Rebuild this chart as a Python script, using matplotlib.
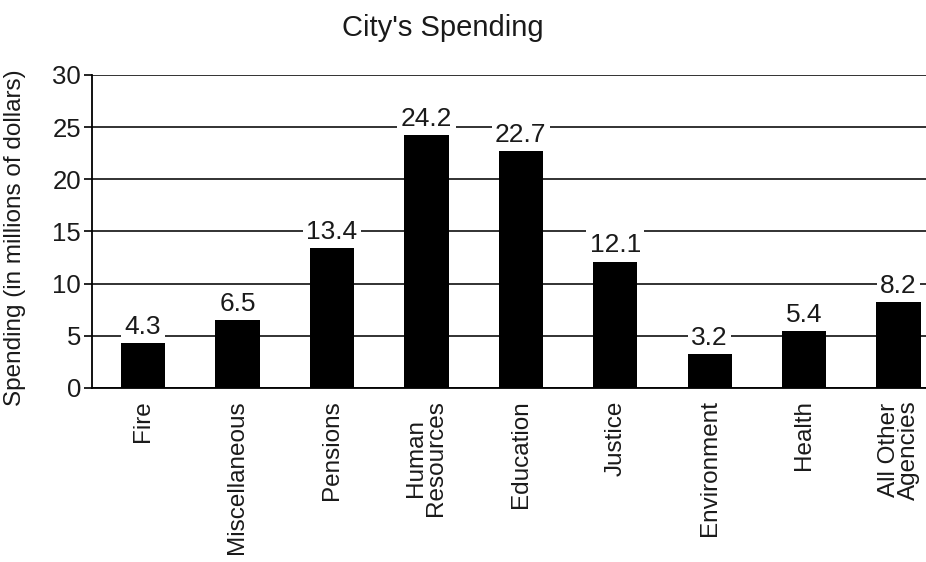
import matplotlib.pyplot as plt
import numpy as np

plt.rcParams['font.family'] = ['Liberation Sans', 'DejaVu Sans']

categories = ["Fire", "Miscellaneous", "Pensions", "Human\nResources", "Education",
              "Justice", "Environment", "Health", "All Other\nAgencies"]
spending = [4.3, 6.5, 13.4, 24.2, 22.7, 12.1, 3.2, 5.4, 8.2]
value_labels = ["4.3", "6.5", "13.4", "24.2", "22.7", "12.1", "3.2", "5.4", "8.2"]
yticks = [0, 5, 10, 15, 20, 25, 30]

fig = plt.figure(figsize=(9.26, 5.62), dpi=100)
ax = fig.add_axes([0.0994, 0.310, 0.9006, 0.5566])

x = np.arange(len(categories))
ax.bar(x, spending, width=0.47, color="black", zorder=3)

# value labels with white boxes that break the gridlines
for xi, v, lab in zip(x, spending, value_labels):
    ax.annotate(lab, (xi, v), xytext=(0, 3), textcoords="offset points",
                ha="center", va="bottom", fontsize=19, color="#1a1a1a", zorder=4,
                bbox=dict(facecolor="white", edgecolor="none", pad=2.5))

ax.set_ylim(0, 30)
ax.set_xlim(-0.54, 8.29)
ax.set_yticks(yticks)
ax.yaxis.grid(True, color="#222222", linewidth=1.3, zorder=0)
ax.set_axisbelow(True)
ax.tick_params(axis="y", labelsize=18.5, length=6, width=1.2, pad=2, labelcolor="#1a1a1a")
ax.tick_params(axis="x", length=0, pad=9)
ax.set_xticks(x)
ax.set_xticklabels(categories, rotation=90, fontsize=17.5, linespacing=0.88, color="#1a1a1a")

ax.spines["top"].set_visible(False)
ax.spines["right"].set_visible(False)
ax.spines["left"].set_linewidth(1.3)
ax.spines["bottom"].set_linewidth(1.3)

ax.set_ylabel("Spending (in millions of dollars)", fontsize=17.5, color="#1a1a1a")
ax.yaxis.set_label_coords(-0.079, 0.48)
fig.text(0.478, 0.95, "City's Spending", ha="center", va="center", fontsize=21,
         color="#1a1a1a")

fig.savefig("out.png", dpi=100)
